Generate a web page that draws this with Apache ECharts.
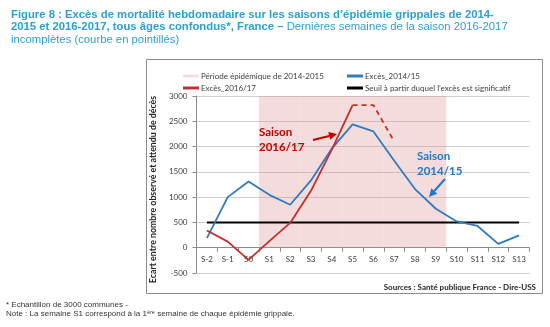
<!DOCTYPE html>
<html><head><meta charset="utf-8">
<script src="https://cdn.jsdelivr.net/npm/echarts@6/dist/echarts.min.js"></script>
<style>html,body{margin:0;padding:0;background:#fff}#c{width:550px;height:327px}</style>
</head><body><div id="c"></div>
<script>
var categories = ['S-2','S-1','S0','S1','S2','S3','S4','S5','S6','S7','S8','S9','S10','S11','S12','S13'];
var exces1415 = [190, 1000, 1310, 1045, 850, 1330, 1960, 2440, 2300, 1720, 1160, 770, 520, 430, 75, 245];
var exces1617 = [340, 120, -240, 130, 490, 1125, 1940, 2820, null, null, null, null, null, null, null, null];
var exces1617Partial = [null, null, null, null, null, null, null, 2820, 2820, 2100, null, null, null, null, null, null];
var seuil = [500,500,500,500,500,500,500,500,500,500,500,500,500,500,500,500];
var periode = [null,null,null,3000,3000,3000,3000,3000,3000,3000,3000,3000,null,null,null,null];
var yTicks = {min: -500, max: 3000, interval: 500};

var RED = '#c0302c', BLUE = '#2f7bc0', CF = 'Lato, "Open Sans", sans-serif';
var GRID = {left: 196.5, right: 20.5, top: 96, bottom: 54};
var plotH = 327 - GRID.top - GRID.bottom;
var zeroOffset = -plotH * (0 - yTicks.min) / (yTicks.max - yTicks.min);

var chart = echarts.init(document.getElementById('c'), null, {renderer: 'canvas'});

function arrow(x1, y1, x2, y2, color) {
  var dx = x2 - x1, dy = y2 - y1, L = Math.sqrt(dx*dx + dy*dy), ux = dx/L, uy = dy/L;
  var hl = 8, hw = 4;
  var bx = x2 - ux*hl, by = y2 - uy*hl;
  return [
    {type: 'line', shape: {x1: x1, y1: y1, x2: bx, y2: by}, style: {stroke: color, lineWidth: 2}, z: 50},
    {type: 'polygon', shape: {points: [[x2, y2], [bx - uy*hw, by + ux*hw], [bx + uy*hw, by - ux*hw]]}, style: {fill: color}, z: 50}
  ];
}

var graphics = [
  {type: 'rect', shape: {x: 146.5, y: 59.5, width: 396, height: 234}, style: {fill: 'none', stroke: '#8c8c8c', lineWidth: 1}, z: -10},
  {type: 'text', x: 536, y: 287, style: {text: 'Sources : Santé publique France - Dire-USS', font: 'bold 8px ' + CF, fill: '#262626', align: 'right', verticalAlign: 'middle'}},
  {type: 'text', x: 259, y: 140, style: {text: 'Saison\n2016/17', font: 'bold 11.5px ' + CF, fill: '#c00000', lineHeight: 14.5, verticalAlign: 'middle'}, z: 50},
  {type: 'text', x: 417, y: 164, style: {text: 'Saison\n2014/15', font: 'bold 11.5px ' + CF, fill: '#1f78c8', lineHeight: 14.5, verticalAlign: 'middle'}, z: 50},
  {type: 'text', x: 6, y: 305, style: {text: '* Echantillon de 3000 communes -', font: '8px "Liberation Sans", Arial, sans-serif', fill: '#333', verticalAlign: 'middle'}},
  {type: 'text', x: 6, y: 314, style: {text: '{a|Note : La semaine S1 correspond à la 1}{s|ère}{a| semaine de chaque épidémie grippale.}', fill: '#333', verticalAlign: 'middle',
    rich: {a: {font: '8px "Liberation Sans", Arial, sans-serif', fill: '#333'}, s: {font: '5.5px "Liberation Sans", Arial, sans-serif', fill: '#333', verticalAlign: 'top', padding: [0,0,4,0]}}}}
].concat(arrow(313, 140, 337, 134, '#c00000')).concat(arrow(445, 179, 429, 197, '#1f78c8'));

var option = {
  animation: false,
  title: {
    left: 6, top: 3, itemGap: 0,
    text: '{b|Figure 8 : Excès de mortalité hebdomadaire sur les saisons d\u2019épidémie grippales de 2014-}\n{b|2015 et 2016-2017, tous âges confondus*, France \u2013}{r| Dernières semaines de la saison 2016-2017}\n{r|incomplètes (courbe en pointillés)}',
    textStyle: {
      rich: {
        b: {fontFamily: '"Liberation Sans", Arial, sans-serif', fontWeight: 'bold', fontSize: 11.3, color: '#2f9fd2', lineHeight: 12.8},
        r: {fontFamily: '"Liberation Sans", Arial, sans-serif', fontWeight: 'normal', fontSize: 11.3, color: '#2f9fd2', lineHeight: 12.8}
      }
    }
  },
  legend: [
    {left: 178, top: 67, orient: 'vertical', itemGap: 4, itemWidth: 16, itemHeight: 3, icon: 'rect',
     textStyle: {fontFamily: CF, fontSize: 8, color: '#404040', padding: [0,0,0,-3]},
     data: ['Période épidémique de 2014-2015', 'Excès_2016/17']},
    {left: 342, top: 67, orient: 'vertical', itemGap: 4, itemWidth: 16, itemHeight: 3, icon: 'rect',
     textStyle: {fontFamily: CF, fontSize: 8, color: '#404040', padding: [0,0,0,-3]},
     data: ['Excès_2014/15', 'Seuil à partir duquel l\u2019excès est significatif']}
  ],
  grid: GRID,
  xAxis: {
    type: 'category', data: categories, boundaryGap: true, offset: zeroOffset,
    axisLine: {onZero: false, lineStyle: {color: '#8c8c8c'}},
    axisTick: {show: true, length: 4, lineStyle: {color: '#8c8c8c'}},
    axisLabel: {fontFamily: CF, fontSize: 8, color: '#404040', margin: 8}
  },
  yAxis: {
    type: 'value', min: yTicks.min, max: yTicks.max, interval: yTicks.interval,
    name: 'Ecart entre nombre observé et attendu de décès', nameLocation: 'middle', nameGap: 31,
    nameTextStyle: {fontFamily: CF, fontSize: 8.8, fontWeight: 'bold', color: '#262626', padding: [0, 10, 0, 0]},
    axisLine: {show: true, lineStyle: {color: '#8c8c8c'}},
    axisTick: {show: true, length: 4, lineStyle: {color: '#8c8c8c'}},
    axisLabel: {fontFamily: CF, fontSize: 8, color: '#404040', margin: 9, formatter: function (v) { return String(v); }},
    splitLine: {lineStyle: {color: '#d0d0d0', width: 1}}
  },
  series: [
    {name: 'Période épidémique de 2014-2015', type: 'bar', data: periode, barWidth: '100%', z: 1,
     itemStyle: {color: 'rgba(220,140,140,0.3)'}, color: 'rgba(220,140,140,0.3)'},
    {name: 'Seuil à partir duquel l\u2019excès est significatif', type: 'line', data: seuil, symbol: 'none', z: 3,
     lineStyle: {color: '#000', width: 2}, color: '#000'},
    {name: 'Excès_2014/15', type: 'line', data: exces1415, symbol: 'none', z: 4,
     lineStyle: {color: BLUE, width: 1.8}, color: BLUE},
    {name: 'Excès_2016/17', type: 'line', data: exces1617, symbol: 'none', z: 5,
     lineStyle: {color: RED, width: 1.8}, color: RED},
    {name: 'Excès_2016/17 (incomplet)', type: 'line', data: exces1617Partial, symbol: 'none', z: 5,
     lineStyle: {color: RED, width: 1.8, type: [5, 4]}, color: RED}
  ],
  graphic: graphics
};
chart.setOption(option);
</script></body></html>
